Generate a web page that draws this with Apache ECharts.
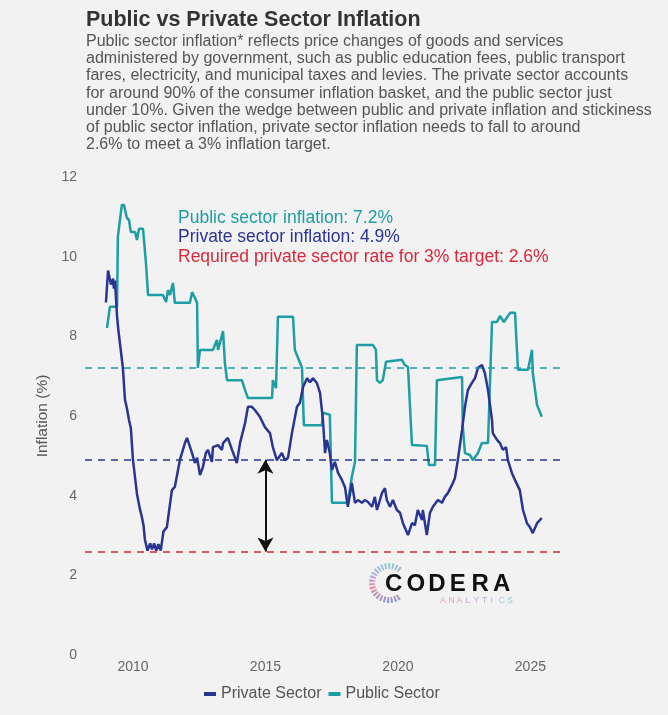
<!DOCTYPE html>
<html>
<head>
<meta charset="utf-8">
<script src="https://cdn.jsdelivr.net/npm/echarts@6/dist/echarts.min.js"></script>
<style>
html,body{margin:0;padding:0;background:#f2f2f2;}
#chart{width:668px;height:715px;}
</style>
</head>
<body>
<div id="chart"></div>
<script>
// ---- DATA ----
const privateYears = [2008.98,2009.06,2009.17,2009.25,2009.28,2009.32,2009.40,2009.45,2009.55,2009.62,2009.70,2009.77,2009.85,2009.92,2010.00,2010.15,2010.25,2010.34,2010.40,2010.45,2010.55,2010.65,2010.72,2010.80,2010.88,2010.96,2011.05,2011.15,2011.28,2011.47,2011.58,2011.77,2011.96,2012.04,2012.23,2012.34,2012.42,2012.53,2012.64,2012.75,2012.83,2012.98,2013.02,2013.21,2013.36,2013.40,2013.58,2013.74,2013.92,2014.04,2014.23,2014.34,2014.49,2014.60,2014.79,2014.98,2015.17,2015.28,2015.43,2015.62,2015.74,2015.85,2016.00,2016.19,2016.30,2016.42,2016.57,2016.68,2016.79,2016.94,2017.06,2017.13,2017.17,2017.25,2017.32,2017.43,2017.51,2017.62,2017.74,2017.89,2018.00,2018.11,2018.26,2018.38,2018.49,2018.64,2018.75,2018.87,2019.02,2019.13,2019.21,2019.40,2019.51,2019.58,2019.70,2019.81,2019.96,2020.08,2020.19,2020.38,2020.53,2020.64,2020.75,2020.91,2020.94,2021.09,2021.21,2021.32,2021.51,2021.66,2021.77,2021.89,2022.04,2022.15,2022.26,2022.42,2022.53,2022.64,2022.79,2022.91,2023.02,2023.17,2023.28,2023.40,2023.55,2023.58,2023.74,2023.85,2023.96,2024.08,2024.15,2024.30,2024.42,2024.60,2024.72,2024.87,2024.98,2025.09,2025.25,2025.43];
const privateValues = [8.85,9.65,9.30,9.45,9.20,9.40,8.50,8.15,7.60,7.20,6.40,6.20,5.90,5.70,4.90,4.05,3.70,3.45,3.25,2.90,2.62,2.80,2.65,2.80,2.62,2.78,2.62,3.10,3.21,4.14,4.22,4.89,5.32,5.45,5.07,4.82,4.95,4.52,4.72,5.07,5.15,4.85,5.22,5.27,5.15,5.32,5.45,5.15,4.82,5.32,5.82,6.23,6.23,6.15,5.98,5.72,5.57,5.22,4.89,5.07,4.89,4.95,5.57,6.23,6.33,6.73,6.95,6.85,6.95,6.83,6.58,6.15,5.90,5.07,5.40,5.07,4.64,4.85,4.57,4.39,4.22,3.72,4.32,3.82,3.89,3.82,3.89,3.84,3.72,3.97,3.64,4.07,4.19,3.89,3.72,3.89,3.64,3.57,3.31,3.01,3.31,3.26,3.64,3.39,3.64,3.01,3.57,3.72,3.89,3.82,3.97,4.07,4.27,4.44,4.89,5.65,6.23,6.65,6.83,6.95,7.21,7.28,7.08,6.65,5.90,5.57,5.40,5.32,5.15,5.22,4.89,4.57,4.39,4.14,3.64,3.31,3.21,3.06,3.31,3.44];
const publicYears = [2009.02,2009.13,2009.40,2009.43,2009.58,2009.66,2009.77,2009.85,2009.92,2010.08,2010.15,2010.23,2010.38,2010.49,2010.57,2011.13,2011.25,2011.32,2011.40,2011.51,2011.58,2012.15,2012.23,2012.34,2012.42,2012.45,2012.53,2013.02,2013.17,2013.21,2013.28,2013.40,2013.47,2013.55,2014.11,2014.23,2014.34,2015.25,2015.28,2015.40,2015.47,2016.04,2016.11,2016.38,2016.42,2016.45,2017.13,2017.17,2017.43,2017.51,2018.11,2018.26,2018.38,2018.45,2019.06,2019.17,2019.21,2019.32,2019.43,2019.55,2020.15,2020.26,2020.38,2020.53,2021.09,2021.17,2021.40,2021.47,2022.42,2022.45,2022.53,2022.72,2022.83,2023.02,2023.17,2023.40,2023.55,2023.74,2023.85,2024.00,2024.23,2024.42,2024.53,2024.91,2025.06,2025.09,2025.25,2025.43];
const publicValues = [8.21,8.74,8.74,10.49,11.30,11.30,10.97,10.92,10.62,10.62,10.42,10.70,10.70,9.84,9.04,9.04,8.86,9.16,9.04,9.34,8.84,8.84,9.11,8.96,8.84,7.21,7.66,7.66,7.91,7.66,7.66,8.13,7.33,6.90,6.90,6.65,6.45,6.45,6.90,6.70,8.49,8.49,7.66,7.21,7.21,5.77,5.77,6.08,6.03,3.82,3.82,4.47,4.85,7.78,7.78,7.66,6.90,6.83,6.90,7.36,7.41,7.28,7.23,5.27,5.25,4.77,4.77,6.90,6.98,5.72,5.07,5.02,4.89,5.07,5.32,5.32,8.36,8.36,8.51,8.36,8.59,8.59,7.16,7.16,7.66,7.08,6.28,5.98];
const publicTarget = 7.2;
const privateTarget = 4.9;
const requiredRate = 2.6;
const arrowYear = 2015;
const xTickLabels = [2010, 2015, 2020, 2025];
const yTicks = {min: 0, max: 12, interval: 2};

const TEAL = '#1d9ea4', NAVY = '#2a3592', RED = '#d8283c';
const FONT = '"Liberation Sans", Arial, sans-serif';

const pair = (xs, ys) => xs.map((x, i) => [x, ys[i]]);

const chart = echarts.init(document.getElementById('chart'), null, {renderer: 'canvas'});

const annotations = [
  {text: 'Public sector inflation: ' + publicTarget + '%', color: TEAL},
  {text: 'Private sector inflation: ' + privateTarget + '%', color: NAVY},
  {text: 'Required private sector rate for 3% target: ' + requiredRate + '%', color: RED}
];

const logoLetters = 'CODERA'.split('');
const subLetters = 'ANALYTICS'.split('');
const subColors = ['#e7a0b0','#e3a2b8','#d9a6c2','#cfaacc','#c2afd5','#b2b8db','#a3c3dc','#99ccd8','#92d2d3'];

const graphics = [];
annotations.forEach((a, i) => {
  graphics.push({type: 'text', left: 178, top: 209 + i * 19.5,
    style: {text: a.text, fill: a.color, font: '17.5px ' + FONT}});
});
// logo ring
graphics.push({type: 'arc', shape: {cx: 389, cy: 583, r: 17, startAngle: Math.PI * 0.3, endAngle: Math.PI * 1.75},
  style: {fill: 'none', lineWidth: 6, lineDash: [2, 1.5],
    stroke: new echarts.graphic.LinearGradient(0, 0, 0, 1, [
      {offset: 0, color: '#8fd0cf'}, {offset: 0.35, color: '#b9a6d8'}, {offset: 0.6, color: '#e58a9c'}, {offset: 1, color: '#8b9bd6'}])}, z: 10});
logoLetters.forEach((l, i) => {
  graphics.push({type: 'text', left: 385 + i * 21.6, top: 572,
    style: {text: l, fill: '#111', font: 'bold 24px ' + FONT}, z: 11});
});
subLetters.forEach((l, i) => {
  graphics.push({type: 'text', left: 440 + i * 8.4, top: 596,
    style: {text: l, fill: subColors[i], font: '8.5px ' + FONT}, z: 11});
});

const option = {
  backgroundColor: '#f2f2f2',
  animation: false,
  textStyle: {fontFamily: FONT},
  title: {
    text: 'Public vs Private Sector Inflation',
    subtext: 'Public sector inflation* reflects price changes of goods and services\nadministered by government, such as public education fees, public transport\nfares, electricity, and municipal taxes and levies. The private sector accounts\nfor around 90% of the consumer inflation basket, and the public sector just\nunder 10%. Given the wedge between public and private inflation and stickiness\nof public sector inflation, private sector inflation needs to fall to around\n2.6% to meet a 3% inflation target.',
    left: 81, top: 4, itemGap: 2,
    textStyle: {fontSize: 21.5, fontWeight: 'bold', color: '#333', fontFamily: FONT},
    subtextStyle: {fontSize: 16, lineHeight: 17.2, color: '#555', fontFamily: FONT}
  },
  legend: {
    bottom: 8, left: 199, icon: 'rect', itemWidth: 12, itemHeight: 4, itemGap: 7,
    textStyle: {fontSize: 16, color: '#555', fontFamily: FONT},
    data: ['Private Sector', 'Public Sector']
  },
  grid: {left: 85, right: 105, top: 177, bottom: 60, containLabel: false},
  xAxis: {
    type: 'value', min: 2008.19, max: 2026.23,
    axisLine: {show: false}, axisTick: {show: false}, splitLine: {show: false},
    axisLabel: {customValues: xTickLabels, formatter: v => String(Math.round(v)), color: '#666', fontSize: 14, margin: 5}
  },
  yAxis: {
    type: 'value', min: yTicks.min, max: yTicks.max, interval: yTicks.interval,
    name: 'Inflation (%)', nameLocation: 'middle', nameGap: 34, nameRotate: 90,
    nameTextStyle: {fontSize: 15.5, color: '#555'},
    axisLine: {show: false}, axisTick: {show: false}, splitLine: {show: false},
    axisLabel: {color: '#666', fontSize: 14, margin: 8}
  },
  series: [
    {
      name: 'Private Sector', type: 'line', data: pair(privateYears, privateValues),
      showSymbol: false, symbol: 'none', lineStyle: {color: NAVY, width: 2.5}, itemStyle: {color: NAVY}, z: 3,
      markLine: {
        silent: true, symbol: 'none', label: {show: false}, animation: false,
        data: [
          {yAxis: publicTarget, lineStyle: {color: TEAL, type: [7, 6], width: 1.6}},
          {yAxis: privateTarget, lineStyle: {color: NAVY, type: [7, 6], width: 1.6}},
          {yAxis: requiredRate, lineStyle: {color: RED, type: [7, 6], width: 1.6}}
        ]
      }
    },
    {
      name: 'Public Sector', type: 'line', data: pair(publicYears, publicValues),
      showSymbol: false, symbol: 'none', lineStyle: {color: TEAL, width: 2.5}, itemStyle: {color: TEAL}, z: 2,
      markLine: {
        silent: true, symbol: ['arrow', 'arrow'], symbolSize: [12, 14], label: {show: false}, animation: false,
        lineStyle: {color: '#111', type: 'solid', width: 2},
        data: [[{coord: [arrowYear, privateTarget]}, {coord: [arrowYear, requiredRate]}]]
      }
    }
  ],
  graphic: graphics
};
chart.setOption(option);
</script>
</body>
</html>
